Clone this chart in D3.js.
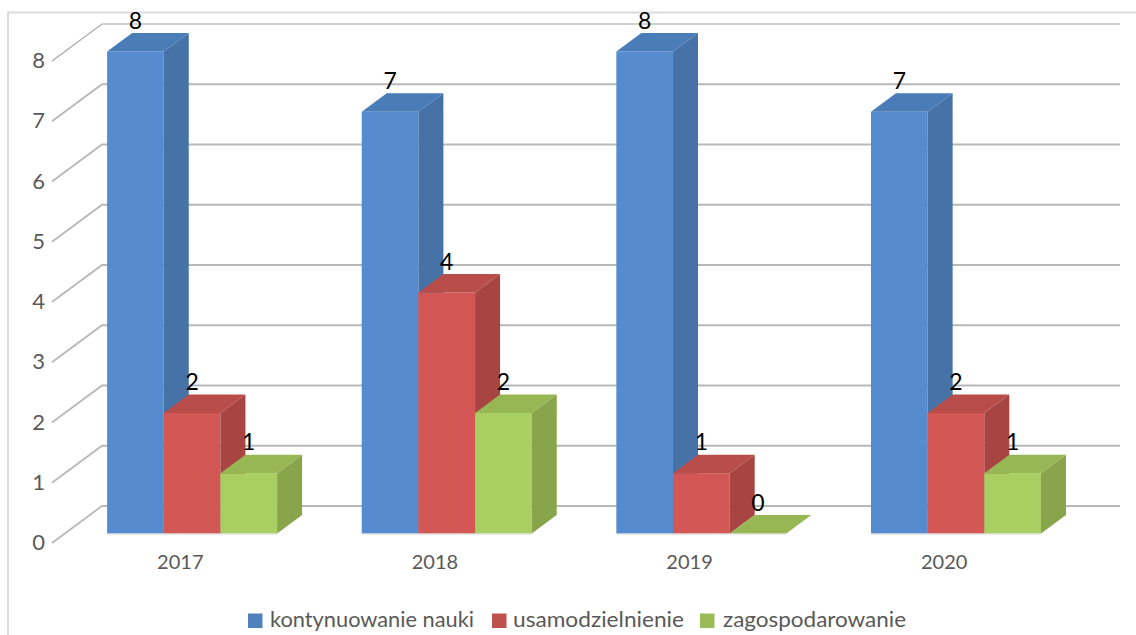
<!DOCTYPE html>
<html><head><meta charset="utf-8">
<script src="https://cdn.jsdelivr.net/npm/d3@7"></script>
<style>html,body{margin:0;padding:0;background:#fff}svg{display:block}text{font-family:Lato,"Open Sans",sans-serif}</style>
</head><body><div id="c"></div>
<script>
const categories = ["2017","2018","2019","2020"];
const seriesNames = ["kontynuowanie nauki","usamodzielnienie","zagospodarowanie"];
const nauka = [8,7,8,7];
const usamodzielnienie = [2,4,1,2];
const zagospodarowanie = [1,2,0,1];
const yTicks = [0,1,2,3,4,5,6,7,8];
const frontColors = ["#558ccf","#d25755","#a9ce62"];
const topColors = ["#4a7cb8","#b84d4a","#97b755"];
const sideColors = ["#4672a8","#a84442","#88a54c"];
const legendColors = ["#4f81bd","#c0504d","#9bbb59"];

const W=1136,H=635;
const svg=d3.select("#c").append("svg").attr("width",W).attr("height",H);
const y=d3.scaleLinear().domain([0,8]).range([533.5,51.5]);
const x0=d3.scaleBand().domain(categories).range([52.5,1071]);
const x1=d3.scaleBand().domain(seriesNames).range([54.6,224.6]);
const depthX=25,depthY=18.5,floorDrop=9.5,wallX=50,wallY=37,wallEnd=1120;
const values=[nauka,usamodzielnienie,zagospodarowanie];

// chart frame
svg.append("path").attr("d",`M8,635V12.5H${W}`).attr("fill","none").attr("stroke","#dcdcdc").attr("stroke-width",2);

// back wall gridlines and side wall lines
const grid=svg.append("g").attr("fill","none").attr("stroke","#b8b8b8");
yTicks.forEach(t=>{
  const fy=y(t)+floorDrop;
  grid.append("path").attr("stroke-width",t===8?1.2:1.8).attr("stroke",t===8?"#a6a6a6":"#b8b8b8")
    .attr("d",`M52,${fy}L${52+wallX},${fy-wallY}H${wallEnd}`);
});

// bars
const bars=svg.append("g");
categories.forEach((c,ci)=>{
  seriesNames.forEach((s,si)=>{
    const v=values[si][ci];
    const xa=x0(c)+x1(s), xb=xa+x1.bandwidth();
    const top=y(v), base=y(0);
    if(v>0){
      bars.append("rect").attr("x",xa).attr("y",top).attr("width",xb-xa).attr("height",base-top)
        .attr("fill",frontColors[si]);
      bars.append("path").attr("fill",sideColors[si])
        .attr("d",`M${xb},${top}L${xb+depthX},${top-depthY}V${base-depthY}L${xb},${base}Z`);
    }
    bars.append("path").attr("fill",topColors[si])
      .attr("d",`M${xa},${top}L${xa+depthX},${top-depthY}H${xb+depthX}L${xb},${top}Z`);
  });
  const xa=x0(c)+x1(seriesNames[0]), xb=x0(c)+x1(seriesNames[2])+x1.bandwidth();
  bars.append("path").attr("fill","none").attr("stroke","#d4d4d4").attr("stroke-width",1)
    .attr("d",`M${xa},${y(0)+0.5}H${xb}`);
});

// data labels
const labels=svg.append("g").attr("font-size",23).attr("fill","#000").attr("text-anchor","middle");
categories.forEach((c,ci)=>{
  seriesNames.forEach((s,si)=>{
    const v=values[si][ci];
    labels.append("text").attr("x",x0(c)+x1(s)+x1.bandwidth()/2).attr("y",y(v)-23).text(v);
  });
});

// y axis labels
const yLab=svg.append("g").attr("font-size",22).attr("fill","#595959").attr("text-anchor","end");
yTicks.forEach(t=>yLab.append("text").attr("x",45).attr("y",y(t)+16.5).text(t));

// category labels
const xLab=svg.append("g").attr("font-size",20).attr("fill","#595959").attr("text-anchor","middle");
categories.forEach(c=>xLab.append("text").attr("x",x0(c)+x0.bandwidth()/2+0.5).attr("y",569).text(c));

// legend
const legendX=[248,492,700], legendTextX=[270,513,723], legendTextW=[204,171,183];
const leg=svg.append("g").attr("font-size",21).attr("fill","#595959");
seriesNames.forEach((s,i)=>{
  leg.append("rect").attr("x",legendX[i]).attr("y",613.5).attr("width",14.5).attr("height",14.5).attr("fill",legendColors[i]);
  leg.append("text").attr("x",legendTextX[i]).attr("y",627)
    .attr("textLength",legendTextW[i]).attr("lengthAdjust","spacingAndGlyphs").text(s);
});
</script></body></html>
